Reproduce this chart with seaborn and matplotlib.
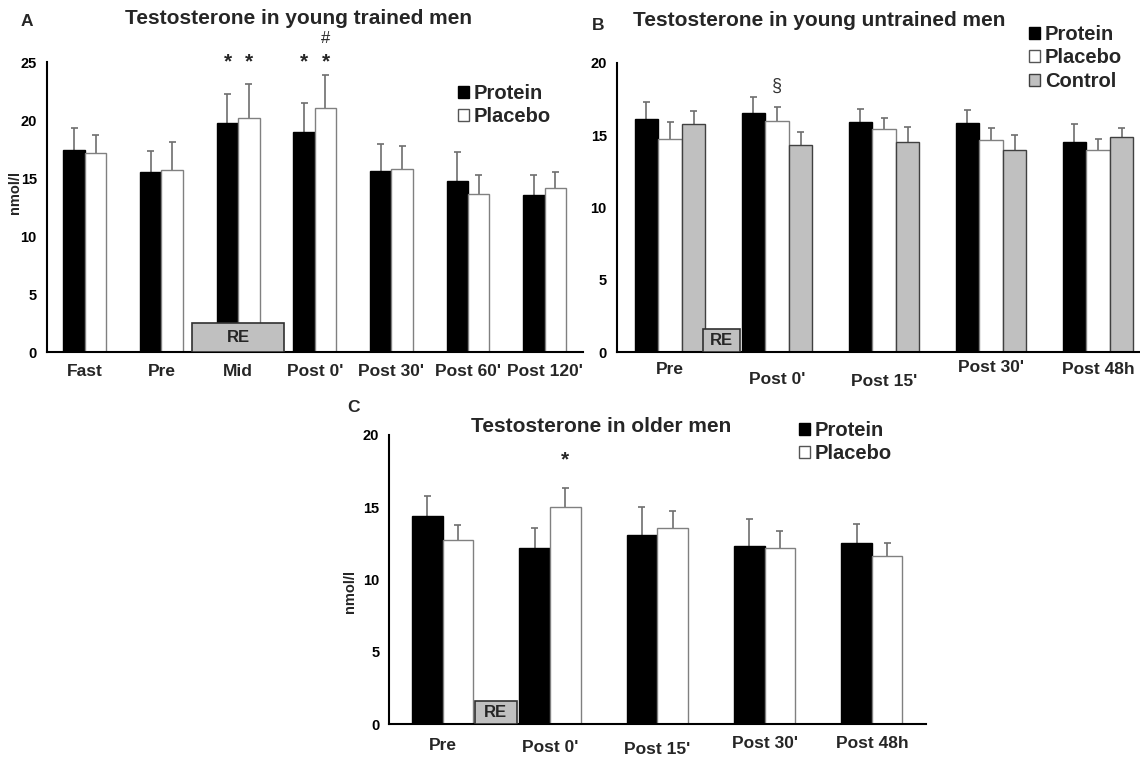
import numpy as np
import pandas as pd
import matplotlib
matplotlib.use("Agg")
import matplotlib.pyplot as plt
import seaborn as sns
from matplotlib.patches import Rectangle
from matplotlib.transforms import ScaledTranslation

# ---------------- data ----------------
cats_A = ["Fast", "Pre", "Mid", "Post 0'", "Post 30'", "Post 60'", "Post 120'"]
protein_A = [17.4, 15.55, 19.7, 19.0, 15.6, 14.7, 13.55]
protein_A_err = [1.95, 1.75, 2.5, 2.45, 2.3, 2.5, 1.75]
placebo_A = [17.15, 15.65, 20.2, 21.0, 15.75, 13.65, 14.1]
placebo_A_err = [1.6, 2.45, 2.9, 2.85, 2.0, 1.6, 1.4]

cats_B = ["Pre", "Post 0'", "Post 15'", "Post 30'", "Post 48h"]
protein_B = [16.1, 16.55, 15.95, 15.85, 14.55]
protein_B_err = [1.2, 1.1, 0.85, 0.9, 1.2]
placebo_B = [14.75, 16.0, 15.45, 14.65, 14.0]
placebo_B_err = [1.15, 0.95, 0.75, 0.85, 0.75]
control_B = [15.75, 14.35, 14.5, 13.95, 14.9]
control_B_err = [0.9, 0.85, 1.05, 1.05, 0.6]

cats_C = ["Pre", "Post 0'", "Post 15'", "Post 30'", "Post 48h"]
protein_C = [14.4, 12.2, 13.1, 12.3, 12.5]
protein_C_err = [1.4, 1.35, 1.9, 1.9, 1.35]
placebo_C = [12.7, 15.0, 13.55, 12.2, 11.65]
placebo_C_err = [1.1, 1.35, 1.2, 1.15, 0.85]

groups = ["Protein", "Placebo", "Control"]
fills = {"Protein": "black", "Placebo": "white", "Control": "#c0c0c0"}
edges = {"Protein": "black", "Placebo": "#808080", "Control": "#404040"}

# ---------------- style ----------------
sns.set_style("white")
plt.rcParams["font.family"] = ["Liberation Sans", "DejaVu Sans"]
plt.rcParams["font.weight"] = "bold"

W, H = 1140, 758
fig = plt.figure(figsize=(W / 100, H / 100), dpi=100)


def px_axes(left, top, right, bottom):
    return fig.add_axes([left / W, 1 - bottom / H, (right - left) / W, (bottom - top) / H])


def make_df(cats, series):
    rows = []
    for name, vals in series:
        for c, v in zip(cats, vals):
            rows.append({"time": c, "group": name, "value": v})
    return pd.DataFrame(rows)


def panel(ax, cats, series, errs, ymax, width, label_offsets, cap_px, cat_px):
    levels = [s[0] for s in series]
    df = make_df(cats, series)
    sns.barplot(data=df, x="time", y="value", hue="group", order=cats,
                hue_order=levels, palette={k: fills[k] for k in levels},
                width=width, errorbar=None, ax=ax, legend=True, zorder=2)
    for cont, lev in zip(ax.containers, levels):
        for bar, e in zip(cont, errs[lev]):
            bar.set_edgecolor(edges[lev])
            bar.set_linewidth(1.0)
            x = bar.get_x() + bar.get_width() / 2
            y = bar.get_height()
            cap = cap_px / cat_px
            ax.vlines(x, y, y + e, color="#6e6e6e", lw=1.2, zorder=1.5)
            ax.hlines(y + e, x - cap, x + cap, color="#6e6e6e", lw=1.2, zorder=1.5)
    n = len(cats)
    ax.set_xlim(-0.5, n - 0.5)
    ax.set_ylim(0, ymax)
    ax.set_yticks(np.arange(0, ymax + 1, 5))
    ax.set_yticklabels([str(v) for v in range(0, ymax + 1, 5)], fontsize=10.5, fontweight="bold")
    ax.set_xticks(np.arange(-0.5, n, 1.0))
    ax.set_xticklabels([])
    ax.set_xticks(np.arange(n), minor=True)
    ax.set_xticklabels(cats, minor=True, fontsize=12.5, fontweight="bold")
    ax.tick_params(axis="x", which="major", direction="out", length=6, width=1.3, colors="black")
    ax.tick_params(axis="x", which="minor", length=0, pad=0)
    ax.tick_params(axis="y", direction="out", length=5, width=1.3, pad=2, colors="black")
    for lab, dy in zip(ax.get_xticklabels(minor=True), label_offsets):
        lab.set_verticalalignment("center")
        lab.set_transform(lab.get_transform() + ScaledTranslation(0, -dy / 100, fig.dpi_scale_trans))
    for s in ["top", "right"]:
        ax.spines[s].set_visible(False)
    for s in ["left", "bottom"]:
        ax.spines[s].set_color("black")
        ax.spines[s].set_linewidth(1.5)
    ax.set_xlabel("")
    ax.set_ylabel("")
    leg = ax.get_legend()
    handles = leg.legend_handles
    labels = [t.get_text() for t in leg.texts]
    leg.remove()
    for h, lab in zip(handles, labels):
        h.set_facecolor(fills[lab])
        h.set_edgecolor(edges[lab] if lab != "Placebo" else "#555555")
        h.set_linewidth(1.0)
    return handles, labels


def add_legend(ax, handles, labels, x_px, y_px):
    ax.legend(handles, labels, loc="upper left", bbox_to_anchor=(x_px / W, 1 - y_px / H),
              bbox_transform=fig.transFigure, frameon=False, borderpad=0, borderaxespad=0,
              handlelength=0.55, handleheight=0.55, handletextpad=0.25, labelspacing=0.22,
              prop={"size": 14.5, "weight": "bold"})


def add_re(ax, x0, x1, h):
    ax.add_patch(Rectangle((x0, 0), x1 - x0, h, facecolor="#c0c0c0", edgecolor="#303030",
                           lw=1.2, zorder=4))
    ax.text((x0 + x1) / 2, h / 2, "RE", ha="center", va="center", fontsize=12,
            fontweight="bold", zorder=5)


# ---------------- Panel A ----------------
axA = px_axes(46.5, 62, 583, 352)
hA, lA = panel(axA, cats_A, [("Protein", protein_A), ("Placebo", placebo_A)],
               {"Protein": protein_A_err, "Placebo": placebo_A_err}, 25, 0.56,
               [19] * 7, 3.5, 76.7)
add_legend(axA, hA, lA, 458, 84)
add_re(axA, 1.40, 2.60, 2.5)
for xi in [1.87, 2.14, 2.86, 3.14]:
    axA.text(xi, 25.0, "*", ha="center", va="center", fontsize=15, fontweight="bold")
axA.text(3.14, 27.0, "#", ha="center", va="center", fontsize=12, fontweight="normal")
axA.set_ylabel("nmol/l", fontsize=10.5, fontweight="bold")
axA.yaxis.set_label_coords(-0.045, 0.55)

# ---------------- Panel B ----------------
axB = px_axes(616.5, 63, 1151.5, 352)
hB, lB = panel(axB, cats_B, [("Protein", protein_B), ("Placebo", placebo_B), ("Control", control_B)],
               {"Protein": protein_B_err, "Placebo": placebo_B_err, "Control": control_B_err},
               20, 0.66, [18, 27, 29, 16, 18], 3.5, 107)
add_legend(axB, hB, lB, 1029, 25)
add_re(axB, 0.31, 0.65, 1.6)
axB.text(1.0, 18.4, "§", ha="center", va="center", fontsize=13, fontweight="normal",
         color="#333333")

# ---------------- Panel C ----------------
axC = px_axes(389, 435, 925.5, 724)
hC, lC = panel(axC, cats_C, [("Protein", protein_C), ("Placebo", placebo_C)],
               {"Protein": protein_C_err, "Placebo": placebo_C_err}, 20, 0.57,
               [21, 23, 25, 19, 20], 3.5, 107.3)
add_legend(axC, hC, lC, 799, 421)
add_re(axC, 0.30, 0.69, 1.6)
axC.text(1.14, 18.3, "*", ha="center", va="center", fontsize=15, fontweight="bold")
axC.set_ylabel("nmol/l", fontsize=10.5, fontweight="bold")
axC.yaxis.set_label_coords(-0.06, 0.46)

# ---------------- titles and panel letters ----------------
fig.text(298.5 / W, 1 - 19 / H, "Testosterone in young trained men", ha="center", va="center",
         fontsize=15, fontweight="bold")
fig.text(819 / W, 1 - 20 / H, "Testosterone in young untrained men", ha="center", va="center",
         fontsize=15, fontweight="bold")
fig.text(601 / W, 1 - 426 / H, "Testosterone in older men", ha="center", va="center",
         fontsize=15, fontweight="bold")
fig.text(27 / W, 1 - 22 / H, "A", ha="center", va="center", fontsize=12.5, fontweight="bold")
fig.text(598 / W, 1 - 25 / H, "B", ha="center", va="center", fontsize=12.5, fontweight="bold")
fig.text(353 / W, 1 - 407 / H, "C", ha="center", va="center", fontsize=12.5, fontweight="bold")

fig.savefig("out.png", dpi=100)
